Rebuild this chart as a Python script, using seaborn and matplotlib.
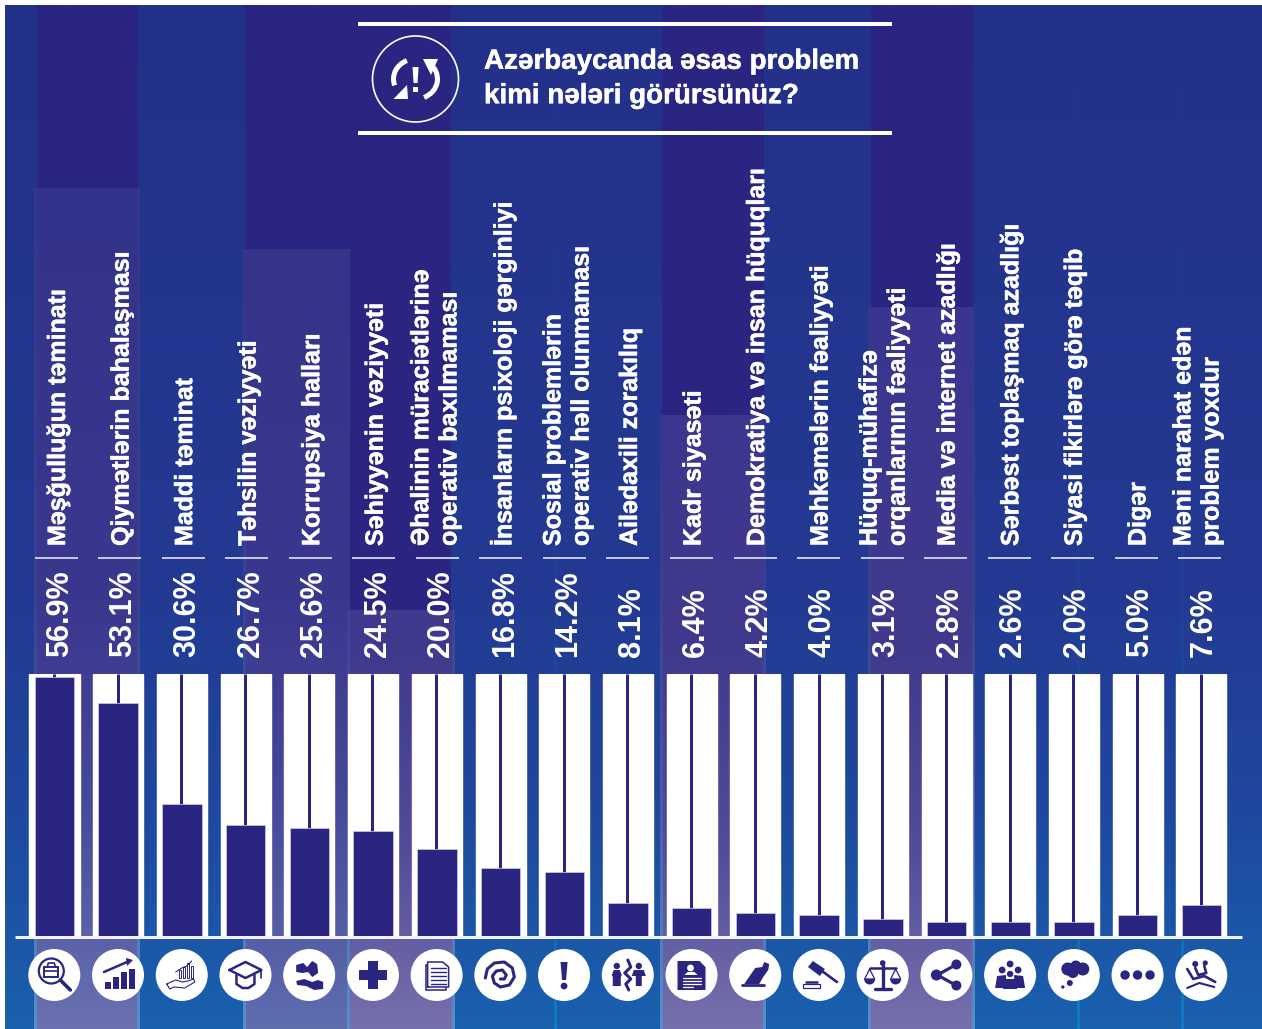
import numpy as np
import pandas as pd
import matplotlib
matplotlib.use("Agg")
import matplotlib.pyplot as plt
import matplotlib.patheffects as pe
from matplotlib.patches import Circle, Rectangle, Polygon, Arc, Wedge
from matplotlib.colors import to_rgb
import seaborn as sns

# ---------- data ----------
categories = ["Məşğulluğun təminatı", "Qiymətlərin bahalaşması", "Maddi təminat", "Təhsilin vəziyyəti",
              "Korrupsiya halları", "Səhiyyənin vəziyyəti", "Əhalinin müraciətlərinə\noperativ baxılmaması",
              "İnsanların psixoloji gərginliyi", "Sosial problemlərin\noperativ həll olunmaması",
              "Ailədaxili zorakılıq", "Kadr siyasəti", "Demokratiya və insan hüquqları",
              "Məhkəmələrin fəaliyyəti", "Hüquq-mühafizə\norqanlarının fəaliyyəti", "Media və internet azadlığı",
              "Sərbəst toplaşmaq azadlığı", "Siyasi fikirlərə görə təqib", "Digər",
              "Məni narahat edən\nproblem yoxdur"]
value_labels = ["56.9%", "53.1%", "30.6%", "26.7%", "25.6%", "24.5%", "20.0%", "16.8%", "14.2%", "8.1%",
                "6.4%", "4.2%", "4.0%", "3.1%", "2.8%", "2.6%", "2.0%", "5.0%", "7.6%"]
# bar lengths as they are drawn in the picture
drawn_lengths = [59.2, 53.3, 30.1, 25.3, 24.6, 23.9, 19.8, 15.6, 14.5, 7.4,
                 6.4, 5.1, 4.6, 3.9, 3.2, 3.2, 3.0, 4.8, 6.9]
key_top = 60
title_text = "Azərbaycanda əsas problem\nkimi nələri görürsünüz?"

DARK = "#2a2580"
W, H = 1262, 1029
sns.set_style("white")
plt.rcParams["font.family"] = ["Liberation Sans", "DejaVu Sans"]
fig = plt.figure(figsize=(W / 100, H / 100), dpi=100, facecolor="white")
PX = 0.72

# ---------- background (pixel axes) ----------
bg = fig.add_axes([0, 0, 1, 1], zorder=0)
bg.set_xlim(0, W); bg.set_ylim(H, 0); bg.axis("off")

def grad(x0, x1, y0, y1, stops):
    ys = np.arange(y0, y1 + 1)
    pos = [s[0] for s in stops]
    cols = np.array([to_rgb(s[1]) for s in stops])
    img = np.stack([np.interp(ys, pos, cols[:, k]) for k in range(3)], axis=1)[:, None, :]
    bg.imshow(img, extent=(x0, x1, y1, y0), aspect="auto", interpolation="bilinear")

base = [(5, "#243089"), (600, "#233a92"), (800, "#1f479d"), (1029, "#1961ae")]
grad(5, W, 5, H, base)
for x0, x1, y1 in [(37, 137.6, 190), (245, 350, 250), (662, 764, 417), (871, 973, 309)]:
    grad(x0, x1, 5, y1, [(5, DARK), (y1, DARK)])
rect_a = [(190, "#32338a"), (600, "#3a388e"), (800, "#46489a"), (1029, "#6a72b1")]
rect_b = [(250, "#343489"), (600, "#3a388e"), (800, "#484899"), (1029, "#5f6dae")]
rect_c = [(300, "#3a3690"), (650, "#3f3a8d"), (850, "#514d9a"), (1029, "#7670ac")]
edge = [(190, "#34378c"), (600, "#3a4290"), (800, "#4a5ba6"), (1029, "#5790cb")]
def panel(x0, x1, y0, st):
    grad(x0, x1, y0, H, [(y0, edge[0][1]), (600, edge[1][1]), (800, edge[2][1]), (H, edge[3][1])])
    grad(x0 + 3, x1 - 3, y0, H, st)
panel(34, 140, 188, rect_a)
panel(243, 353, 249, rect_b)
grad(350, 451, 5, 612, [(5, DARK), (612, DARK)])
panel(347, 455, 610, rect_c)
panel(660, 766, 415, rect_c)
panel(868, 975, 307, rect_c)
for x in [555, 1078, 1182]:
    grad(x - 1.3, x + 1.3, 5, H, [(5, "#243089"), (600, "#203e98"), (800, "#1a55aa"), (H, "#0e7cc8")])
bg.set_xlim(0, W); bg.set_ylim(H, 0)

# ---------- bars (seaborn) ----------
step = 63.72
left_px = 54.5 - step / 2
base_px, top_px = 935.5, 674
ax = fig.add_axes([left_px / W, 1 - base_px / H, 19 * step / W, (base_px - top_px) / H], zorder=2)
ax.patch.set_alpha(0)
df = pd.DataFrame({"cat": categories, "drawn": drawn_lengths, "key": [key_top] * len(categories)})
sns.barplot(data=df, x="cat", y="key", color="white", width=0.785, saturation=1, ax=ax, zorder=1)
ax.vlines(np.arange(len(categories)) - 0.01, df["drawn"], key_top, color=DARK, lw=3 * PX, zorder=2)
sns.barplot(data=df, x="cat", y="drawn", color=DARK, width=0.62, saturation=1, ax=ax, zorder=3,
            edgecolor="#dcdcf0", linewidth=0.4)
ax.set_xlim(-0.5, 18.5); ax.set_ylim(0, key_top)
ax.set_xlabel(""); ax.set_ylabel(""); ax.set_xticks([]); ax.set_yticks([])
sns.despine(ax=ax, left=True, bottom=True)

# ---------- overlay ----------
ov = fig.add_axes([0, 0, 1, 1], zorder=3)
ov.set_xlim(0, W); ov.set_ylim(H, 0); ov.axis("off"); ov.patch.set_alpha(0)
heavy = [pe.withStroke(linewidth=0.35, foreground="white")]

ov.plot([15, 1242], [937, 937], color="#f2f2fa", lw=3 * PX, solid_capstyle="butt")
ov.add_patch(Rectangle((358, 22), 534, 4, color="white", lw=0))
ov.add_patch(Rectangle((358, 131), 534, 4, color="white", lw=0))
ov.text(484, 79, title_text, color="white", fontsize=20.0, fontweight="bold", va="center", ha="left",
        linespacing=1.42, path_effects=heavy)

# title icon
ov.add_patch(Circle((415.5, 79), 43, fill=False, ec="white", lw=1.2))
ov.add_patch(Polygon([(412.5, 67), (418.6, 67), (417.5, 83), (413.6, 83)], color="white", lw=0))
ov.add_patch(Rectangle((413, 87), 5, 5, color="white", lw=0))
ov.add_patch(Arc((415.5, 79), 44, 40, theta1=163, theta2=245, ec="white", lw=3.6))
ov.add_patch(Arc((415.5, 79), 44, 40, theta1=-50, theta2=65, ec="white", lw=3.6))
ov.add_patch(Polygon([(393.5, 99), (408, 99), (407, 85)], color="white", lw=0))
ov.add_patch(Polygon([(423, 59), (438, 59), (431, 75)], color="white", lw=0))

# labels
two_line_nudge = {6: -3.0, 8: 2.0, 13: 0.5, 18: -3.5}
for i, (c, v) in enumerate(zip(categories, value_labels)):
    x = 57 + 63.55 * i
    ov.text(x + 3, 657, v, rotation=90, color="white", fontsize=22, fontweight="bold", ha="center", va="bottom")
    ov.text(x + two_line_nudge.get(i, 1), 546, c, rotation=90, color="white", fontsize=18.0,
            fontweight="bold", ha="center", va="bottom", multialignment="left", linespacing=1.22,
            path_effects=heavy)
    ov.plot([x - 22.5, x + 20.5], [557.5, 557.5], color="#d5d5ec", lw=1.3, solid_capstyle="butt")

# ---------- icons ----------
cy = 975
def R(cx, x, y, w, h, fc=DARK):
    ov.add_patch(Rectangle((cx + x, cy + y), w, h, fc=fc, ec="none", zorder=5))
def C(cx, x, y, r, fc=DARK, ec="none", lw=0):
    ov.add_patch(Circle((cx + x, cy + y), r, fc=fc, ec=ec, lw=lw, zorder=5))
def P(cx, pts, fc=DARK):
    ov.add_patch(Polygon([(cx + a, cy + b) for a, b in pts], fc=fc, ec="none", zorder=5))
def L(cx, pts, lw=1.5, col=DARK):
    ov.plot([cx + a for a, b in pts], [cy + b for a, b in pts], color=col, lw=lw, zorder=5,
            solid_capstyle="round", solid_joinstyle="round")

def i0(c):
    C(c, -3, -4, 12.5, fc="none", ec=DARK, lw=1.6)
    L(c, [(6, 5), (16, 15)], 2.6)
    ov.add_patch(Rectangle((c - 10, cy - 8), 14, 10, fc="none", ec=DARK, lw=1.4, zorder=5))
    L(c, [(-10, -4), (4, -4)], 1.2); L(c, [(-7, -8), (-6, -12), (0, -12), (1, -8)], 1.2)
def i1(c):
    for x, h in [(-13, 7), (-5, 12), (3, 17), (11, 20)]:
        R(c, x, 14 - h, 5.5, h)
    L(c, [(-14, -3), (9, -13)], 1.8)
    P(c, [(8, -17), (15, -15), (9, -9)])
def i2(c):
    for x, h in [(-3, 8), (1, 11), (5, 15), (9, 12)]:
        ov.add_patch(Rectangle((c + x, cy + 3 - h), 2.5, h, fc="none", ec=DARK, lw=0.7, zorder=5))
    L(c, [(-6, -3), (0, -7), (5, -9), (10, -14)], 0.8)
    L(c, [(-15, 9), (-6, 5), (1, 7), (6, 6), (12, 4), (13, 7), (3, 13), (-8, 12), (-12, 14), (-15, 9)], 0.8)
def i3(c):
    L(c, [(-16, -5), (0, -13), (16, -5), (0, 3), (-16, -5)], 1.8)
    L(c, [(-9, 0), (-9, 9), (-3, 13), (3, 13), (9, 9), (9, 0)], 1.8)
    L(c, [(16, -5), (16, 3)], 1.2)
def i4(c):
    P(c, [(-13, -10), (-6, -12), (-2, -8), (3, -14), (8, -11), (9, -2), (3, 2), (-1, -3), (-7, -2), (-13, -3)])
    P(c, [(-13, 6), (-5, 4), (3, 7), (9, 5), (14, 7), (14, 14), (5, 15), (-3, 11), (-12, 10)])
def i5(c):
    R(c, -5, -14, 10, 28); R(c, -14, -5, 28, 10)
def i6(c):
    ov.add_patch(Rectangle((c - 11, cy - 10), 20, 25, fc="white", ec=DARK, lw=1.1, zorder=5))
    P(c, [(-9, -13), (6, -13), (12, -8), (12, 12), (-9, 12)], fc="white")
    L(c, [(-9, 12), (-9, -13), (6, -13), (12, -8), (12, 12), (-9, 12)], 1.1)
    for y in [-7, -3, 1, 5, 9]:
        L(c, [(-6, y), (9, y)], 1.0)
def i7(c):
    L(c, [(-15, 3), (-13, -6), (-6, -12), (4, -13), (12, -7), (14, 2), (9, 10), (0, 12), (-6, 8), (-8, 1),
          (-4, -4), (2, -5), (6, 0), (4, 4), (0, 4)], 2.2)
def i8(c):
    P(c, [(-3.5, -13), (3.5, -13), (2, 5), (-2, 5)]); C(c, 0, 11, 3.4)
def i9(c):
    for x in [-11, 11]:
        C(c, x, -9, 3.2)
    P(c, [(-16, 0), (-14, -5), (-8, -5), (-6, 0), (-7, 2), (-7, 11), (-15, 11), (-15, 2)])
    P(c, [(6, -5), (16, -5), (18, 1), (14, 1), (14, 11), (8, 11), (8, 1), (4, 1)])
    L(c, [(0, -15), (3, -8), (-3, -2), (3, 4), (-2, 9), (1, 15)], 2.2)
def i10(c):
    P(c, [(-14, -14), (8, -14), (14, -8), (14, 15), (-14, 15)])
    C(c, -1, -7, 3.4, fc="white"); P(c, [(-7, 0), (-4, -3), (3, -3), (6, 0)], fc="white")
    for y, w in [(3, 18), (6, 18), (9, 18), (12, 10)]:
        L(c, [(-9, y), (-9 + w, y)], 0.9, col="white")
def i11(c):
    P(c, [(-11, 9), (0, -7), (7, -8), (9, -13), (14, -11), (13, -5), (8, 2), (4, 9)])
    L(c, [(-13, 10), (9, 10)], 2.0)
def i12(c):
    P(c, [(-11, -8), (-6, -14), (6, -6), (1, 1)]); L(c, [(3, -4), (18, 7)], 1.9)
    ov.add_patch(Rectangle((c - 16, cy + 9), 17, 4, fc="white", ec=DARK, lw=0.9, zorder=5))
    L(c, [(-13, 7), (-2, 7)], 1.8)
def i13(c):
    C(c, 0, -12, 2.8); L(c, [(0, -10), (0, 12)], 2.4); L(c, [(-13, -7), (13, -7)], 1.8); L(c, [(-8, 14), (8, 14)], 2.4)
    for x in [-13, 13]:
        L(c, [(x, -6), (x - 5, 4), (x + 5, 4), (x, -6)], 0.9)
        ov.add_patch(Wedge((c + x, cy + 4), 5.5, 0, 180, fc=DARK, ec="none", zorder=5))
def i14(c):
    L(c, [(9, -10), (-9, 0), (9, 10)], 2.3)
    C(c, -10, 0, 5.5); C(c, 10, -10.5, 5); C(c, 10, 10.5, 5)
def i15(c):
    for x, y in [(-8, -5), (8, -5), (0, -11)]:
        C(c, x, y, 3.4)
    P(c, [(-15, 13), (-13, 1), (-4, 0), (-4, 13)]); P(c, [(15, 13), (13, 1), (4, 0), (4, 13)])
    C(c, 0, -1, 3.6, fc=DARK, ec="white", lw=0.6)
    P(c, [(-7, 14), (-5, 4), (5, 4), (7, 14)], fc=DARK)
def i16(c):
    for x, y, r in [(-6, -6, 6.5), (2, -9, 5.5), (9, -6, 6.5), (-1, -3, 6)]:
        C(c, x, y, r)
    C(c, -4, 8, 3); C(c, -11, 12, 1.7)
def i17(c):
    for x in [-12.5, 0, 12.5]:
        C(c, x, 0, 4.7)
def i18(c):
    C(c, -6, -11, 3); C(c, 4, -12, 2.6)
    L(c, [(-14, -6), (-8, 4), (3, 1), (14, 7)], 1.9)
    L(c, [(-6, -7), (-3, 0), (5, -2), (3, -9)], 1.9)
    L(c, [(-14, 13), (-2, 8), (13, 12)], 1.5)
icons = [i0, i1, i2, i3, i4, i5, i6, i7, i8, i9, i10, i11, i12, i13, i14, i15, i16, i17, i18]
for i, fn in enumerate(icons):
    cx = 54.3 + step * i
    ov.add_patch(Circle((cx, cy), 26, fc="white", ec="none", zorder=4))
    fn(cx)

fig.savefig("out.png", dpi=100, facecolor="white")
